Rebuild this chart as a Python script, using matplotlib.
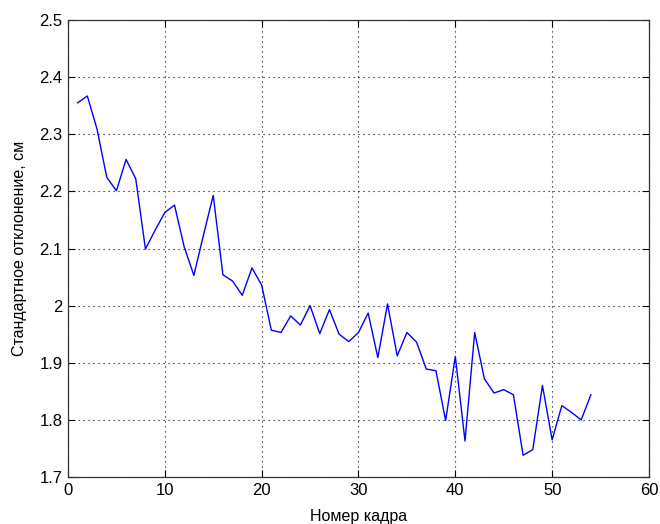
import numpy as np
from matplotlib import pyplot as plt

frames = list(range(1, 55))
std_cm = [2.355, 2.367, 2.309, 2.225, 2.201, 2.256, 2.222, 2.099, 2.132, 2.163,
          2.176, 2.103, 2.053, 2.124, 2.193, 2.054, 2.043, 2.018, 2.066, 2.036,
          1.957, 1.953, 1.982, 1.966, 2.000, 1.951, 1.993, 1.950, 1.937, 1.953,
          1.987, 1.909, 2.003, 1.912, 1.953, 1.936, 1.889, 1.886, 1.799, 1.911,
          1.763, 1.953, 1.872, 1.847, 1.853, 1.844, 1.738, 1.748, 1.860, 1.765,
          1.825, 1.813, 1.800, 1.844]

x_ticks = [0, 10, 20, 30, 40, 50, 60]
y_ticks = [1.7, 1.8, 1.9, 2.0, 2.1, 2.2, 2.3, 2.4, 2.5]
y_labels = ['1.7', '1.8', '1.9', '2', '2.1', '2.2', '2.3', '2.4', '2.5']

plt.rcParams['font.family'] = ['Liberation Sans', 'DejaVu Sans']

fig = plt.figure(figsize=(6.6, 5.24), dpi=100)
ax = fig.add_axes([0.103, 0.0897, 0.8803, 0.8721])

ax.plot(frames, std_cm, color='#0000ff', linewidth=1.0)

ax.set_xlim(0, 60)
ax.set_ylim(1.7, 2.5)
ax.set_xticks(x_ticks)
ax.set_yticks(y_ticks)
ax.set_yticklabels(y_labels)
ax.tick_params(direction='in', top=True, right=True, labelsize=12, length=5, width=0.8, pad=4)
ax.grid(True, color='black', linestyle=(0, (1, 3.5)), linewidth=0.8)
for s in ax.spines.values():
    s.set_linewidth(0.9)
    s.set_color('#333333')

ax.set_xlabel('Номер кадра', fontsize=11.5, labelpad=8)
ax.set_ylabel('Стандартное отклонение, см', fontsize=11.5, labelpad=9)

fig.savefig('out.png', dpi=100)
